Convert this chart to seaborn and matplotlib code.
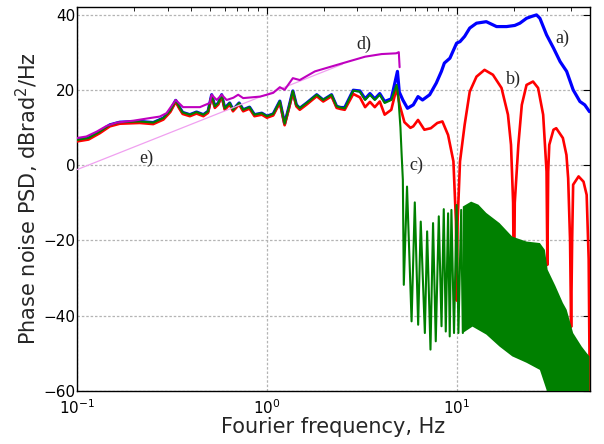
import numpy as np
import pandas as pd
import matplotlib
matplotlib.use("Agg")
import matplotlib.pyplot as plt
import seaborn as sns

# ---- spectra (Fourier frequency in Hz, PSD in dBrad^2/Hz) ----
# low-frequency part shared by traces a), b), c)
common_f = [0.100, 0.115, 0.132, 0.149, 0.168, 0.214, 0.252, 0.285, 0.310, 0.331,
            0.345, 0.360, 0.393, 0.426, 0.463, 0.490, 0.512, 0.532, 0.555, 0.578,
            0.600, 0.637, 0.663, 0.714, 0.750, 0.810, 0.860, 0.940, 1.000, 1.080,
            1.170, 1.240, 1.300, 1.370, 1.430, 1.490, 1.620, 1.830, 1.980, 2.190,
            2.330, 2.450]
common_db = [6.7, 7.2, 8.9, 10.7, 11.4, 11.6, 11.3, 12.5, 14.5, 17.2,
             15.5, 14.0, 13.4, 14.1, 13.4, 14.3, 18.7, 15.6, 16.5, 18.7,
             15.1, 16.5, 14.7, 16.5, 14.7, 15.4, 13.4, 13.8, 13.0, 13.6,
             17.0, 11.0, 15.0, 19.7, 16.0, 15.1, 16.5, 18.7, 17.3, 18.7,
             15.6, 15.3]

# a) free-running
a_f = [2.57, 2.85, 3.09, 3.29, 3.49, 3.70, 3.93, 4.17, 4.52, 4.87, 4.98, 5.20,
       5.50, 5.90, 6.25, 6.60, 7.20, 7.80, 8.30, 8.60, 9.20, 9.98, 10.4, 11.0,
       11.7, 12.7, 14.3, 16.2, 18.3, 20.2, 21.5, 23.3, 24.8, 26.3, 27.4, 29.7,
       32.3, 35.0, 37.9, 41.0, 44.5, 47.2, 50.0]
a_db = [15.3, 19.9, 19.7, 17.6, 19.0, 17.6, 19.0, 16.9, 17.6, 24.9, 19.4, 17.3,
        15.1, 16.0, 18.2, 17.3, 18.7, 21.8, 24.9, 27.1, 28.4, 32.4, 32.8, 34.2,
        36.4, 37.7, 38.1, 36.8, 36.8, 37.1, 37.7, 39.0, 39.5, 39.9, 39.0, 34.6,
        31.1, 27.5, 24.9, 20.0, 16.9, 16.0, 14.2]

# b) with comb notches every 10 Hz
b_f = [2.57, 2.85, 3.09, 3.29, 3.49, 3.70, 3.93, 4.17, 4.52, 4.82, 5.00, 5.30,
       5.70, 5.90, 6.25, 6.75, 7.30, 7.90, 8.40, 9.00, 9.60, 9.90, 10.0, 10.1,
       10.4, 11.0, 11.7, 12.7, 14.0, 15.5, 17.2, 18.6, 19.3, 19.8, 20.0, 20.2,
       21.1, 22.0, 23.3, 25.2, 26.8, 28.5, 29.7, 30.0, 30.3, 30.7, 32.3, 33.4,
       36.2, 37.8, 38.6, 39.5, 40.0, 40.5, 41.0, 43.8, 46.5, 48.3, 49.5, 50.2]
b_db = [14.7, 18.9, 18.0, 15.4, 16.8, 15.4, 16.9, 13.4, 14.7, 20.5, 16.0, 11.4,
        9.9, 10.3, 12.0, 9.4, 9.8, 11.2, 11.6, 8.0, 1.0, -15.0, -36.0, -15.0,
        1.0, 10.7, 19.5, 23.5, 25.3, 24.0, 20.5, 13.4, 5.4, -10.0, -37.0, -10.0,
        5.4, 16.0, 21.3, 22.2, 20.5, 13.4, -1.7, -26.5, -1.7, 5.4, 9.4, 9.8,
        7.2, 2.7, -3.5, -20.0, -43.0, -20.0, -5.2, -3.0, -4.4, -7.9, -25.0, -62.0]

# c) filtered: lobes and notches above the 5 Hz cut-off
c_f = [2.57, 2.85, 3.09, 3.29, 3.49, 3.70, 3.93, 4.17, 4.52, 4.82, 4.92, 5.05,
       5.12, 5.20, 5.26, 5.47, 5.78, 6.01, 6.26, 6.46, 6.79, 6.98, 7.27, 7.50,
       7.75, 8.04, 8.31, 8.54, 8.75, 9.00, 9.18, 9.37, 9.67, 9.98, 10.2, 10.55,
       10.76]
c_db = [15.1, 19.8, 19.5, 17.3, 18.7, 17.3, 18.7, 16.5, 17.3, 21.3, 18.2, 10.0,
        3.2, -3.9, -31.8, -5.7, -41.5, -9.9, -42.4, -15.0, -44.6, -17.6, -49.0, -15.4,
        -46.8, -13.6, -42.8, -11.7, -44.2, -12.8, -45.5, -11.9, -44.6, -10.6, -44.6, -11.9,
        -44.6]
# c) dense lobes above ~11 Hz: upper and lower envelopes
c_top_f = [10.76, 11.9, 13.0, 14.3, 16.8, 19.6, 23.3, 27.4, 29.1, 30.1, 33.0,
           36.2, 37.9, 41.0, 45.5, 48.3, 50.0]
c_top_db = [-11.0, -9.7, -10.5, -12.7, -15.4, -19.0, -20.3, -20.7, -22.5, -27.8, -32.0,
            -36.6, -38.4, -44.6, -48.2, -49.9, -50.8]
c_bot_f = [10.76, 12.1, 14.3, 16.8, 19.6, 23.3, 27.4, 29.7, 30.5, 50.0]
c_bot_db = [-44.6, -42.9, -45.0, -48.2, -50.8, -52.5, -54.4, -59.7, -65.0, -65.0]

# d) total noise
d_f = [0.100, 0.112, 0.127, 0.143, 0.162, 0.198, 0.242, 0.273, 0.296, 0.331,
       0.362, 0.444, 0.500, 0.512, 0.544, 0.578, 0.614, 0.666, 0.706, 0.750,
       0.920, 1.000, 1.080, 1.170, 1.240, 1.370, 1.490, 1.790, 2.190, 2.680,
       3.290, 4.020, 4.800, 4.950, 5.000]
d_db = [7.2, 7.6, 8.9, 10.4, 11.3, 11.8, 12.5, 12.9, 13.8, 17.3,
        15.4, 15.4, 16.5, 18.7, 17.3, 18.7, 17.3, 17.9, 18.7, 17.8,
        18.2, 18.7, 19.2, 20.7, 20.0, 23.1, 22.6, 24.9, 26.2, 27.5,
        28.8, 29.5, 29.7, 30.0, 26.0]

# e) 20 dB/decade asymptote
e_f = [0.1, 2.5]
e_db = [-1.2, 26.8]

labels = ["a)", "b)", "c)", "d)", "e)"]
label_f = [36.1, 20.0, 6.1, 3.24, 0.233]
label_db = [33.8, 22.7, 0.0, 32.0, 1.7]

# ---- figure ----
sns.set_style("white")
plt.rcParams["font.family"] = ["DejaVu Sans"]
plt.rcParams["axes.linewidth"] = 1.0

fig = plt.figure(figsize=(6.04, 4.44), dpi=100)
ax = fig.add_axes([77 / 604, 1 - 391 / 444, (590 - 77) / 604, (391 - 7) / 444])


def trace(f, db, **kw):
    df = pd.DataFrame({"f": f, "db": db})
    sns.lineplot(data=df, x="f", y="db", ax=ax, sort=False, estimator=None, **kw)


trace(common_f + a_f, common_db + a_db, color="#0000ff", lw=2.3, zorder=3)
trace(common_f + b_f, [v - 0.4 for v in common_db] + b_db, color="#ff0000", lw=1.9, zorder=4)
ax.fill(c_top_f + c_bot_f[::-1], c_top_db + c_bot_db[::-1],
        color="#008000", lw=0, zorder=5)
trace(common_f + c_f, common_db + c_db, color="#008000", lw=1.5, zorder=6)
trace(e_f, e_db, color="#f0a0f0", lw=0.9, zorder=6)
trace(d_f, d_db, color="#bf00bf", lw=1.5, zorder=7)

for t, x, y in zip(labels, label_f, label_db):
    ax.text(x, y, t, fontsize=13, family="Liberation Serif",
            ha="center", va="center", zorder=8)

ax.set_xscale("log")
ax.set_xlim(0.1, 50.3)
ax.set_ylim(-60, 42)
ax.set_yticks([-60, -40, -20, 0, 20, 40])
ax.grid(True, which="major", color="#b4b4b4", ls=(0, (2, 1.5)), lw=0.9)
ax.tick_params(which="both", direction="in", top=True, right=True, colors="black",
               labelsize=11)
ax.tick_params(which="major", length=5, width=0.8)
ax.tick_params(which="minor", length=3, width=0.6)
ax.tick_params(axis="y", pad=1)
ax.tick_params(axis="x", pad=5)
for s in ax.spines.values():
    s.set_color("black")

ax.set_xlabel("Fourier frequency, Hz", fontsize=15, labelpad=0)
ax.set_ylabel("Phase noise PSD, dBrad$^2$/Hz", fontsize=15, labelpad=2)

fig.savefig("out.png", dpi=100)
